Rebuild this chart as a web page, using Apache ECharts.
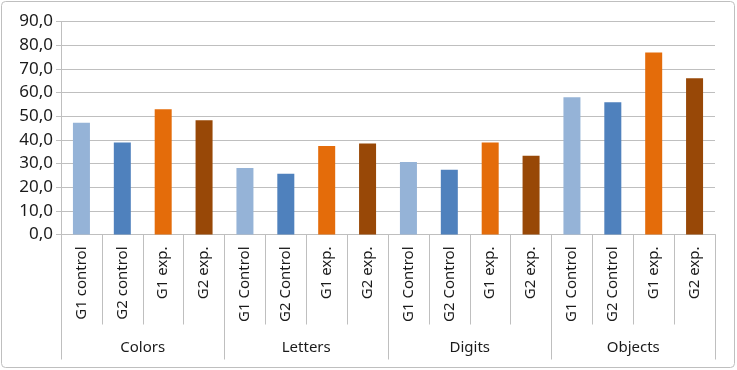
<!DOCTYPE html>
<html>
<head>
<meta charset="utf-8">
<script src="https://cdn.jsdelivr.net/npm/echarts@6/dist/echarts.min.js"></script>
<style>
html,body{margin:0;padding:0;background:#fff;}
#c{width:737px;height:370px;}
</style>
</head>
<body>
<div id="c"></div>
<script>
var groups = ['Colors', 'Letters', 'Digits', 'Objects'];
var categories = [
  'G1 control', 'G2 control', 'G1 exp.', 'G2 exp.',
  'G1 Control', 'G2 Control', 'G1 exp.', 'G2 exp.',
  'G1 Control', 'G2 Control', 'G1 exp.', 'G2 exp.',
  'G1 Control', 'G2 Control', 'G1 exp.', 'G2 exp.'
];
var values = [
  47.2, 38.9, 52.9, 48.3,
  28.1, 25.7, 37.4, 38.4,
  30.6, 27.4, 38.9, 33.3,
  58.0, 55.9, 76.9, 66.0
];
var yTicks = { min: 0, max: 90, interval: 10 };

var palette = ['#95B3D7', '#4F81BD', '#E46C0A', '#984807'];
var font = 'Noto Sans';

var chart = echarts.init(document.getElementById('c'));
chart.setOption({
  animation: false,
  backgroundColor: '#ffffff',
  textStyle: { fontFamily: font },
  graphic: [{
    type: 'rect',
    shape: { x: 1.5, y: 1.5, width: 733, height: 366, r: 4 },
    style: { fill: 'none', stroke: '#BFBFBF', lineWidth: 1 },
    silent: true, z: -1
  }],
  grid: { left: 61, right: 22, top: 21.5, bottom: 135.5 },
  yAxis: {
    type: 'value',
    min: yTicks.min, max: yTicks.max, interval: yTicks.interval,
    axisLine: { show: true, lineStyle: { color: '#BFBFBF' } },
    axisTick: { show: true, length: 5, lineStyle: { color: '#BFBFBF' } },
    splitLine: { lineStyle: { color: '#BFBFBF' } },
    axisLabel: {
      color: '#1a1a1a', fontSize: 17, fontFamily: font, margin: 8,
      formatter: function (v) { return v.toFixed(1).replace('.', ','); }
    }
  },
  xAxis: [{
    type: 'category',
    data: categories,
    position: 'bottom',
    axisLine: { show: true, lineStyle: { color: '#BFBFBF' } },
    axisTick: { show: true, interval: 0, length: 90, lineStyle: { color: '#BFBFBF' } },
    axisLabel: { interval: 0, rotate: 90, margin: 12, color: '#1a1a1a', fontSize: 15, fontFamily: font }
  }, {
    type: 'category',
    data: groups,
    position: 'bottom',
    axisLine: { show: false },
    axisTick: { show: true, interval: 0, length: 125, lineStyle: { color: '#BFBFBF' } },
    axisLabel: { interval: 0, margin: 106, color: '#1a1a1a', fontSize: 15, fontFamily: font }
  }],
  series: [{
    type: 'bar',
    xAxisIndex: 0,
    barWidth: 17,
    data: values.map(function (v, i) {
      return { value: v, itemStyle: { color: palette[i % 4] } };
    })
  }]
});
</script>
</body>
</html>
